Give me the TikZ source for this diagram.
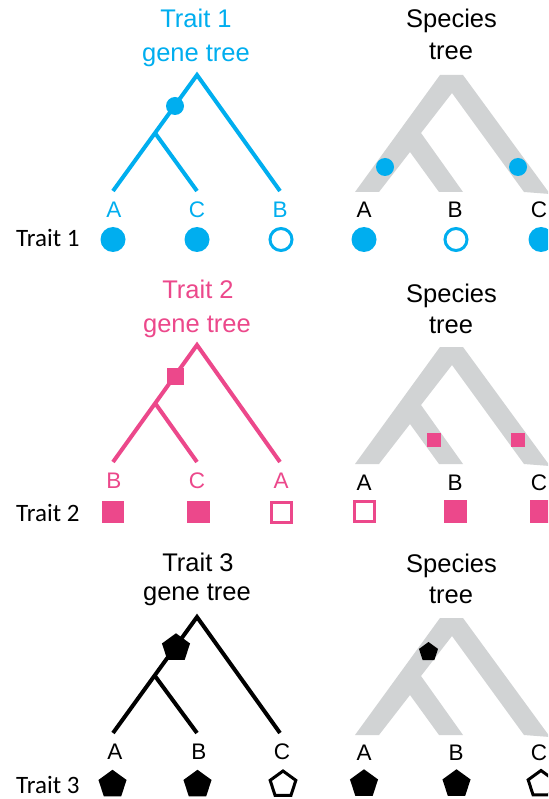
\documentclass[tikz,border=0pt]{standalone}
\usepackage{fontspec}
\setmainfont{Liberation Sans}
\newfontfamily\rowfont{Carlito}
\usetikzlibrary{shapes.geometric}
\definecolor{tcyan}{RGB}{0,174,239}
\definecolor{tpink}{RGB}{236,72,139}
\definecolor{spgray}{RGB}{209,211,212}
\begin{document}
\begin{tikzpicture}[x=1pt,y=-1pt,
  genebranch/.style={line width=4pt,line join=miter,line cap=butt},
  titlelab/.style={font=\fontsize{25.5}{30}\selectfont,anchor=base,inner sep=0pt},
  leaflab/.style={font=\fontsize{22.5}{27}\selectfont,anchor=base,inner sep=0pt},
  rowlab/.style={font=\rowfont\fontsize{25}{30}\selectfont,anchor=base west,inner sep=0pt},
  fcirc/.style={circle,fill=#1,draw=none,inner sep=0pt,minimum size=25pt},
  fcirc/.default=black,
  ocirc/.style={circle,draw=#1,fill=white,line width=3pt,inner sep=0pt,minimum size=22pt},
  ocirc/.default=black,
  fsq/.style={rectangle,fill=#1,draw=none,inner sep=0pt,minimum size=22.5pt},
  fsq/.default=black,
  osq/.style={rectangle,draw=#1,fill=white,line width=3pt,inner sep=0pt,minimum size=20pt},
  osq/.default=black,
  fpent/.style={regular polygon,regular polygon sides=5,fill,draw=none,inner sep=0pt,minimum size=29.5pt},
  opent/.style={regular polygon,regular polygon sides=5,draw,fill=white,line width=3pt,line join=miter,inner sep=0pt,minimum size=27pt},
  sptree/.pic={\fill[spgray] (355,192) -- (440,75) -- (463,75) -- (550,194) -- (524,192) -- (452,93) -- (421,133) -- (463,192) -- (439,192) -- (410,152) -- (379,192) -- cycle;}
]
\clip (0,0) rectangle (548,799);
\fill[white] (0,0) rectangle (548,799);

% ---------------- Panel 1 ----------------
\node[titlelab,tcyan] (g1t1) at (196,28) {Trait 1};
\node[titlelab,tcyan] (g1t2) at (196,62) {gene tree};
\coordinate (g1r) at (197,75);
\coordinate (g1i) at (155,133);
\coordinate (g1a) at (113,191);
\coordinate (g1c) at (197,191);
\coordinate (g1b) at (280,191);
\draw[genebranch,tcyan] (g1a) -- (g1r) -- (g1b);
\draw[genebranch,tcyan] (g1i) -- (g1c);
\node[fcirc=tcyan,minimum size=18pt] (g1m) at (175,106) {};
\node[leaflab,tcyan] (g1la) at (114,218) {A};
\node[leaflab,tcyan] (g1lc) at (197,218) {C};
\node[leaflab,tcyan] (g1lb) at (280,218) {B};
\node[fcirc=tcyan] (g1ma) at (113,239.5) {};
\node[fcirc=tcyan] (g1mc) at (197,239.5) {};
\node[ocirc=tcyan] (g1mb) at (281,239.5) {};
\node[rowlab] (row1) at (16,247) {Trait 1};

\node[titlelab] (s1t1) at (451.5,28) {Species};
\node[titlelab] (s1t2) at (451,60) {tree};
\pic at (0,0) {sptree};
\node[fcirc=tcyan,minimum size=18pt] (s1m1) at (385,167) {};
\node[fcirc=tcyan,minimum size=18pt] (s1m2) at (518,167) {};
\node[leaflab] (s1la) at (364,218) {A};
\node[leaflab] (s1lb) at (455,218) {B};
\node[leaflab] (s1lc) at (539,218) {C};
\node[fcirc=tcyan] (s1ma) at (364,239.5) {};
\node[ocirc=tcyan] (s1mb) at (456,239.5) {};
\node[fcirc=tcyan] (s1mc) at (541,239.5) {};

% ---------------- Panel 2 ----------------
\node[titlelab,tpink] (g2t1) at (198,298) {Trait 2};
\node[titlelab,tpink] (g2t2) at (197,332) {gene tree};
\coordinate (g2r) at (197,345);
\coordinate (g2i) at (155,403);
\coordinate (g2b) at (113,462);
\coordinate (g2c) at (197,462);
\coordinate (g2a) at (280,462);
\draw[genebranch,tpink] (g2b) -- (g2r) -- (g2a);
\draw[genebranch,tpink] (g2i) -- (g2c);
\node[fsq=tpink,minimum size=17pt] (g2m) at (175,376) {};
\node[leaflab,tpink] (g2lb) at (114,488) {B};
\node[leaflab,tpink] (g2lc) at (197,488) {C};
\node[leaflab,tpink] (g2la) at (281,488) {A};
\node[fsq=tpink] (g2mb) at (113,512) {};
\node[fsq=tpink] (g2mc) at (198.5,512) {};
\node[osq=tpink] (g2ma) at (281.5,512) {};
\node[rowlab] (row2) at (16,521) {Trait 2};

\node[titlelab] (s2t1) at (451.5,302) {Species};
\node[titlelab] (s2t2) at (451,333) {tree};
\pic at (0,272) {sptree};
\node[fsq=tpink,minimum size=14pt] (s2m1) at (434,440) {};
\node[fsq=tpink,minimum size=14pt] (s2m2) at (518,440) {};
\node[leaflab] (s2la) at (364,490) {A};
\node[leaflab] (s2lb) at (455,490) {B};
\node[leaflab] (s2lc) at (539,490) {C};
\node[osq=tpink] (s2ma) at (364,511.5) {};
\node[fsq=tpink] (s2mb) at (455.5,511.5) {};
\node[fsq=tpink] (s2mc) at (541,511.5) {};

% ---------------- Panel 3 ----------------
\node[titlelab] (g3t1) at (198,571) {Trait 3};
\node[titlelab] (g3t2) at (197,600) {gene tree};
\coordinate (g3r) at (197,617);
\coordinate (g3i) at (155,676);
\coordinate (g3a) at (113,733);
\coordinate (g3b) at (197,733);
\coordinate (g3c) at (280,733);
\draw[genebranch] (g3a) -- (g3r) -- (g3c);
\draw[genebranch] (g3i) -- (g3b);
\node[fpent] (g3m) at (176,648) {};
\node[leaflab] (g3la) at (115,759) {A};
\node[leaflab] (g3lb) at (199,759) {B};
\node[leaflab] (g3lc) at (282,759) {C};
\node[fpent] (g3ma) at (112.5,784.5) {};
\node[fpent] (g3mb) at (197.5,784.5) {};
\node[opent] (g3mc) at (283,784.5) {};
\node[rowlab] (row3) at (16,793) {Trait 3};

\node[titlelab] (s3t1) at (451.5,572) {Species};
\node[titlelab] (s3t2) at (451,603) {tree};
\pic at (0,543) {sptree};
\node[fpent,minimum size=20pt] (s3m1) at (428.5,652) {};
\node[leaflab] (s3la) at (364,760) {A};
\node[leaflab] (s3lb) at (456,760) {B};
\node[leaflab] (s3lc) at (539,760) {C};
\node[fpent] (s3ma) at (364,784) {};
\node[fpent] (s3mb) at (456.5,784) {};
\node[opent] (s3mc) at (541,784) {};
\end{tikzpicture}
\end{document}
